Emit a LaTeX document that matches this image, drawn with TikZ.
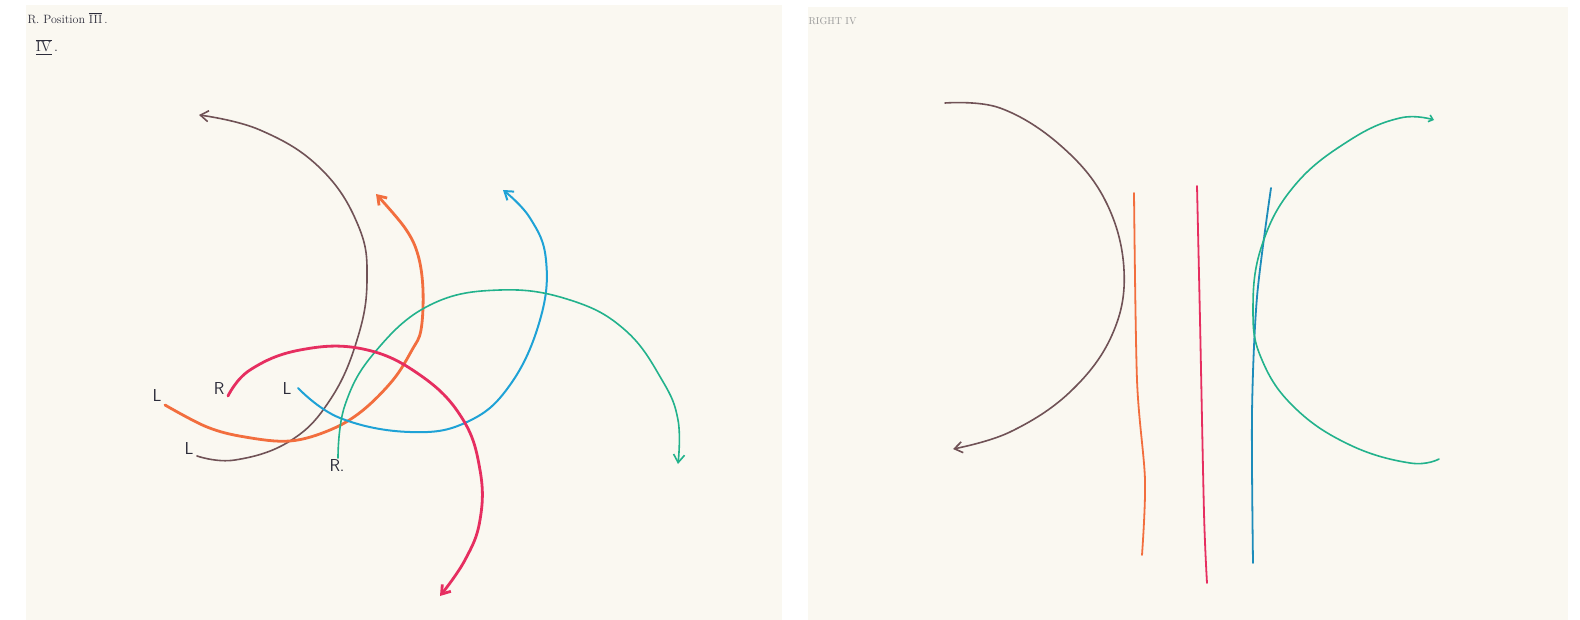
\documentclass[tikz,border=0pt]{standalone}
\usepackage{amsmath,amssymb}
\usepackage{xcolor}
\usepackage{tikz}
\usetikzlibrary{arrows.meta}

\definecolor{paper}{RGB}{250,248,241}
\definecolor{inkbrown}{RGB}{112,82,86}
\definecolor{inkorange}{RGB}{242,110,62}
\definecolor{inkred}{RGB}{230,46,96}
\definecolor{inkblue}{RGB}{30,162,214}
\definecolor{inkdeep}{RGB}{28,140,186}
\definecolor{inkgreen}{RGB}{34,178,140}
\definecolor{inktext}{RGB}{44,44,58}

\tikzset{
  pen/.style={line cap=round, line join=round, >={Straight Barb[length=8pt,width=11pt]}},
  tag/.style={text=inktext, font=\LARGE\sffamily, inner sep=0pt},
}

\begin{document}
\begin{tikzpicture}[x=1pt, y=-1pt]
            \fill[white] (0,0) rectangle (1580,620);
            \useasboundingbox (0,0) rectangle (1580,620);
            \fill[paper] (26,5) rectangle (782,620);
            \fill[paper] (808,7) rectangle (1568,620);
            % left sheet
            \node[anchor=west, text=inktext, font=\large] (title) at (24,18) {R.~Position~$\overline{\mathrm{III}}$\,.};
            \node[text=inktext, font=\Large] (sub) at (47,47) {$\underline{\overline{\mathrm{IV}}}$\,.};
            \node[tag] (lbOr) at (157,396) {L};
            \node[tag] (lbRe) at (219,389) {R};
            \node[tag] (lbBl) at (287,389) {L};
            \node[tag] (lbBr) at (189,449) {L};
            \node[tag] (lbGr) at (337,466) {R.};
            \draw[pen, ->, inkbrown, line width=1.6pt] plot[smooth, tension=0.7] coordinates {(197,456) (235,460) (290,441) (330,400) (357,340) (367,280) (358,225) (320,168) (260,130) (199,115)};
            \draw[pen, ->, inkorange, line width=2.8pt] plot[smooth, tension=0.6] coordinates {(165,405) (207,427) (245,437) (290,441) (330,430) (362,411) (393,380) (412,350) (421,330) (423,290) (418,255) (405,228) (376,194)};
            \draw[pen, ->, inkblue, line width=2pt] plot[smooth, tension=0.7] coordinates {(298,388) (340,418) (410,432) (467,422) (510,385) (540,320) (546,260) (530,218) (503,190)};
            \draw[pen, ->, inkgreen, line width=1.6pt] plot[smooth, tension=0.7] coordinates {(338,458) (345,405) (375,352) (430,305) (500,290) (570,300) (625,330) (662,380) (678,420) (678,464)};
            \draw[pen, ->, inkred, line width=2.8pt] plot[smooth, tension=0.7] coordinates {(228,396) (250,370) (300,350) (363,349) (420,375) (462,418) (480,470) (480,520) (465,560) (440,596)};
            % right sheet
            \node[anchor=west, text=gray!80, font=\normalsize] (right) at (805,21) {RIGHT~IV};
            \draw[pen, ->, inkbrown, line width=1.6pt] plot[smooth, tension=0.65] coordinates {(945,103) (1000,108) (1060,145) (1105,200) (1124,270) (1112,335) (1070,392) (1010,432) (953,449)};
            \draw[pen, inkorange, line width=1.8pt] plot[smooth] coordinates {(1134,193) (1137,380) (1145,480) (1142,555)};
            \draw[pen, inkred, line width=1.8pt] plot[smooth] coordinates {(1197,186) (1200,320) (1204,513) (1207,583)};
            \draw[pen, inkdeep, line width=1.8pt] plot[smooth] coordinates {(1271,188) (1257,297) (1252,413) (1253,563)};
            \draw[pen, ->, >={Straight Barb[length=4pt,width=7pt]}, inkgreen, line width=1.6pt] plot[smooth, tension=0.7] coordinates {(1439,459) (1410,463) (1350,445) (1295,408) (1262,360) (1253,310) (1262,245) (1295,185) (1350,140) (1400,118) (1434,120)};
        \end{tikzpicture}
\end{document}
